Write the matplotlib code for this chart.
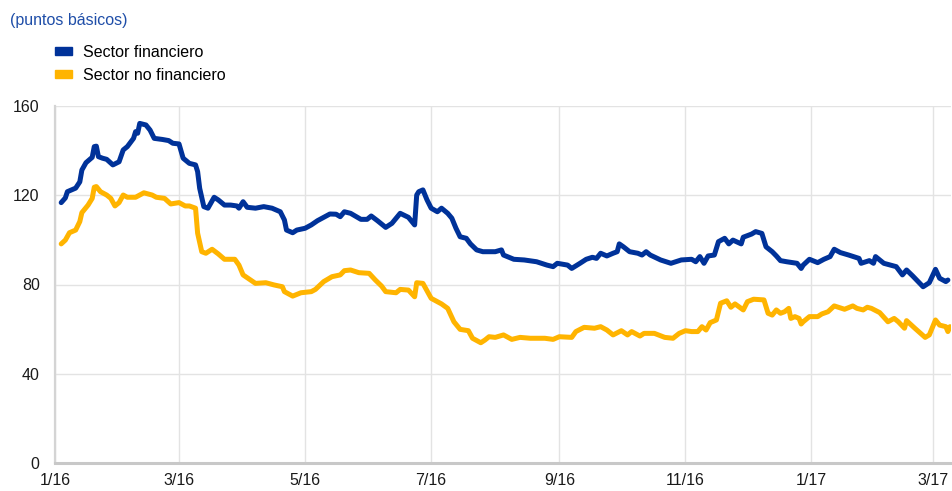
import matplotlib
matplotlib.use("Agg")
import matplotlib.pyplot as plt
from matplotlib.patches import Patch
import pandas as pd

plt.rcParams["font.family"] = ["Liberation Sans", "DejaVu Sans"]

BLUE = "#003299"
YELLOW = "#FFB400"

# Sector financiero (puntos básicos)
fin_dates = [
    "2016-01-04", "2016-01-06", "2016-01-07", "2016-01-11", "2016-01-13", "2016-01-14",
    "2016-01-16", "2016-01-19", "2016-01-20", "2016-01-21", "2016-01-22", "2016-01-24",
    "2016-01-26", "2016-01-29", "2016-02-01", "2016-02-03", "2016-02-05", "2016-02-08",
    "2016-02-09", "2016-02-10", "2016-02-11", "2016-02-14", "2016-02-16", "2016-02-18",
    "2016-02-22", "2016-02-25", "2016-02-27", "2016-03-01", "2016-03-03", "2016-03-06",
    "2016-03-09", "2016-03-10", "2016-03-11", "2016-03-13", "2016-03-15", "2016-03-18",
    "2016-03-20", "2016-03-23", "2016-03-26", "2016-03-29", "2016-03-30", "2016-04-01",
    "2016-04-03", "2016-04-07", "2016-04-11", "2016-04-15", "2016-04-17", "2016-04-19",
    "2016-04-21", "2016-04-22", "2016-04-25", "2016-04-27", "2016-05-01", "2016-05-04",
    "2016-05-07", "2016-05-10", "2016-05-13", "2016-05-16", "2016-05-18", "2016-05-20",
    "2016-05-23", "2016-05-28", "2016-05-31", "2016-06-02", "2016-06-05", "2016-06-09",
    "2016-06-12", "2016-06-16", "2016-06-20", "2016-06-23", "2016-06-24", "2016-06-25",
    "2016-06-27", "2016-06-29", "2016-07-01", "2016-07-04", "2016-07-06", "2016-07-09",
    "2016-07-11", "2016-07-13", "2016-07-15", "2016-07-18", "2016-07-20", "2016-07-23",
    "2016-07-26", "2016-07-28", "2016-08-01", "2016-08-04", "2016-08-05", "2016-08-10",
    "2016-08-15", "2016-08-21", "2016-08-26", "2016-08-29", "2016-08-31", "2016-09-05",
    "2016-09-07", "2016-09-11", "2016-09-14", "2016-09-17", "2016-09-19", "2016-09-21",
    "2016-09-24", "2016-09-27", "2016-09-29", "2016-09-30", "2016-10-02", "2016-10-05",
    "2016-10-09", "2016-10-11", "2016-10-13", "2016-10-15", "2016-10-20", "2016-10-25",
    "2016-10-30", "2016-11-04", "2016-11-06", "2016-11-08", "2016-11-10", "2016-11-12",
    "2016-11-15", "2016-11-17", "2016-11-20", "2016-11-22", "2016-11-24", "2016-11-28",
    "2016-11-29", "2016-12-03", "2016-12-05", "2016-12-08", "2016-12-10", "2016-12-13",
    "2016-12-15", "2016-12-17", "2016-12-20", "2016-12-25", "2016-12-27", "2016-12-28",
    "2016-12-31", "2017-01-04", "2017-01-07", "2017-01-10", "2017-01-12", "2017-01-15",
    "2017-01-19", "2017-01-24", "2017-01-25", "2017-01-29", "2017-01-31", "2017-02-01",
    "2017-02-05", "2017-02-09", "2017-02-11", "2017-02-14", "2017-02-16", "2017-02-19",
    "2017-02-24", "2017-02-27", "2017-03-02", "2017-03-04", "2017-03-07", "2017-03-08",
]
fin_values = [
    116.7, 118.8, 121.6, 123.2, 126.0, 131.3,
    134.6, 137.0, 141.8, 142.0, 137.3, 136.6,
    136.1, 133.6, 135.0, 140.3, 141.8, 145.5,
    148.5, 147.8, 152.2, 151.5, 149.2, 145.5,
    145.0, 144.5, 143.3, 143.0, 136.6, 134.3,
    133.6, 130.6, 123.1, 114.9, 114.2, 119.1,
    117.9, 115.6, 115.6, 115.2, 114.2, 117.1,
    114.6, 114.2, 114.9, 114.2, 113.4, 112.6,
    108.9, 104.4, 103.2, 104.4, 105.2, 106.7,
    108.6, 110.1, 111.6, 111.5, 110.4, 112.6,
    111.9, 109.2, 109.2, 110.7, 108.6, 105.6,
    107.4, 111.9, 110.1, 106.7, 120.1, 121.6,
    122.4, 117.9, 114.2, 112.6, 114.2, 111.9,
    109.7, 105.2, 101.4, 100.7, 98.2, 95.5,
    94.7, 94.7, 94.7, 95.5, 93.2, 91.3,
    91.0, 90.2, 88.7, 88.0, 89.5, 88.7,
    87.2, 89.5, 91.3, 92.2, 91.7, 94.0,
    92.8, 94.0, 94.7, 98.2, 96.9, 94.7,
    94.0, 93.2, 94.7, 93.2, 91.0, 89.5,
    91.0, 91.3, 90.2, 92.5, 89.5, 92.8,
    93.2, 99.2, 100.7, 98.2, 99.9, 98.2,
    101.2, 102.6, 103.7, 102.9, 96.9, 94.7,
    92.8, 90.7, 90.2, 89.5, 87.2, 88.7,
    91.3, 89.8, 91.3, 92.5, 95.8, 94.3,
    93.2, 91.7, 89.5, 90.7, 89.5, 92.5,
    89.5, 88.5, 88.0, 84.3, 86.5, 83.8,
    79.0, 80.8, 86.8, 82.8, 81.3, 82.0,
]

# Sector no financiero (puntos básicos)
nonfin_dates = [
    "2016-01-04", "2016-01-06", "2016-01-08", "2016-01-11", "2016-01-13", "2016-01-14",
    "2016-01-17", "2016-01-19", "2016-01-20", "2016-01-21", "2016-01-23", "2016-01-26",
    "2016-01-28", "2016-01-30", "2016-02-01", "2016-02-03", "2016-02-05", "2016-02-09",
    "2016-02-13", "2016-02-17", "2016-02-19", "2016-02-23", "2016-02-26", "2016-03-01",
    "2016-03-04", "2016-03-06", "2016-03-09", "2016-03-10", "2016-03-12", "2016-03-14",
    "2016-03-17", "2016-03-20", "2016-03-23", "2016-03-28", "2016-03-30", "2016-04-01",
    "2016-04-07", "2016-04-12", "2016-04-16", "2016-04-20", "2016-04-21", "2016-04-25",
    "2016-04-29", "2016-05-04", "2016-05-06", "2016-05-10", "2016-05-14", "2016-05-18",
    "2016-05-20", "2016-05-23", "2016-05-27", "2016-06-01", "2016-06-04", "2016-06-07",
    "2016-06-09", "2016-06-14", "2016-06-16", "2016-06-20", "2016-06-23", "2016-06-24",
    "2016-06-27", "2016-07-01", "2016-07-04", "2016-07-06", "2016-07-09", "2016-07-12",
    "2016-07-15", "2016-07-19", "2016-07-21", "2016-07-25", "2016-07-27", "2016-07-29",
    "2016-08-01", "2016-08-05", "2016-08-09", "2016-08-13", "2016-08-18", "2016-08-25",
    "2016-08-29", "2016-09-01", "2016-09-07", "2016-09-09", "2016-09-13", "2016-09-18",
    "2016-09-21", "2016-09-24", "2016-09-27", "2016-10-01", "2016-10-04", "2016-10-06",
    "2016-10-10", "2016-10-12", "2016-10-17", "2016-10-22", "2016-10-26", "2016-10-29",
    "2016-11-01", "2016-11-04", "2016-11-07", "2016-11-09", "2016-11-11", "2016-11-13",
    "2016-11-16", "2016-11-18", "2016-11-21", "2016-11-23", "2016-11-25", "2016-11-29",
    "2016-12-01", "2016-12-04", "2016-12-09", "2016-12-11", "2016-12-13", "2016-12-15",
    "2016-12-17", "2016-12-19", "2016-12-21", "2016-12-22", "2016-12-24", "2016-12-26",
    "2016-12-27", "2016-12-28", "2016-12-31", "2017-01-04", "2017-01-06", "2017-01-09",
    "2017-01-12", "2017-01-17", "2017-01-21", "2017-01-23", "2017-01-26", "2017-01-28",
    "2017-01-30", "2017-02-03", "2017-02-07", "2017-02-10", "2017-02-12", "2017-02-15",
    "2017-02-16", "2017-02-20", "2017-02-25", "2017-02-27", "2017-03-02", "2017-03-04",
    "2017-03-07", "2017-03-08", "2017-03-09",
]
nonfin_values = [
    98.2, 99.9, 103.2, 104.4, 108.2, 112.2,
    115.6, 118.6, 123.6, 123.9, 121.6, 120.1,
    118.6, 115.2, 116.7, 120.1, 119.1, 119.1,
    121.1, 120.1, 119.1, 118.6, 116.1, 116.7,
    115.2, 115.2, 114.2, 103.0, 94.7, 94.0,
    95.8, 93.7, 91.3, 91.3, 88.7, 84.3,
    80.5, 80.8, 79.8, 79.0, 76.8, 74.8,
    76.3, 76.8, 77.8, 81.3, 83.5, 84.3,
    86.2, 86.5, 85.3, 85.0, 82.0, 79.3,
    76.8, 76.3, 77.8, 77.5, 74.5, 80.8,
    80.5, 73.8, 72.3, 71.3, 69.3, 63.3,
    59.9, 59.3, 55.9, 53.9, 55.1, 56.6,
    56.3, 57.4, 55.4, 56.3, 55.9, 55.9,
    55.4, 56.6, 56.3, 58.9, 60.8, 60.4,
    61.1, 59.6, 57.4, 59.3, 57.4, 58.9,
    56.9, 58.1, 58.1, 56.3, 55.9, 58.1,
    59.3, 58.9, 58.9, 61.1, 59.6, 62.9,
    64.1, 71.6, 72.7, 69.8, 71.3, 68.6,
    72.3, 73.4, 73.1, 67.1, 66.3, 68.6,
    67.1, 67.8, 69.3, 64.8, 65.6, 64.8,
    62.3, 63.3, 65.6, 65.6, 66.8, 67.8,
    70.4, 68.9, 70.4, 69.3, 68.6, 69.8,
    69.3, 67.4, 63.3, 64.8, 63.3, 60.4,
    63.8, 60.4, 56.3, 57.4, 64.1, 61.8,
    61.1, 58.9, 61.1,
]

tick_dates = ["2016-01-01", "2016-03-01", "2016-05-01", "2016-07-01",
              "2016-09-01", "2016-11-01", "2017-01-01", "2017-03-01"]
tick_labels = ["1/16", "3/16", "5/16", "7/16", "9/16", "11/16", "1/17", "3/17"]
y_ticks = [0, 40, 80, 120, 160]

W, H = 952, 491
fig = plt.figure(figsize=(W / 100, H / 100), dpi=100)
ax = fig.add_axes([55 / W, (H - 463) / H, (951 - 55) / W, (463 - 106) / H])

ax.plot(pd.to_datetime(nonfin_dates), nonfin_values, color=YELLOW, lw=3.6,
        solid_joinstyle="round", solid_capstyle="round", zorder=3)
ax.plot(pd.to_datetime(fin_dates), fin_values, color=BLUE, lw=3.6,
        solid_joinstyle="round", solid_capstyle="round", zorder=4)

ax.set_xlim(pd.Timestamp("2016-01-01"), pd.Timestamp("2017-03-09 12:00"))
ax.set_ylim(0, 160)
ax.set_xticks(pd.to_datetime(tick_dates))
ax.set_xticklabels(tick_labels)
ax.set_yticks(y_ticks)

ax.grid(True, color="#e3e3e3", lw=1.0)
ax.set_axisbelow(True)
for side in ["top", "right"]:
    ax.spines[side].set_visible(False)
ax.spines["left"].set_color("#d4d4d4")
ax.spines["left"].set_linewidth(1.6)
ax.spines["bottom"].set_color("#c8c8c8")
ax.spines["bottom"].set_linewidth(2.2)
ax.tick_params(length=0, labelsize=11.5, colors="#1a1a1a")
ax.tick_params(axis="y", pad=11)
ax.tick_params(axis="x", pad=7)

fig.text(10 / W, 1 - 20 / H, "(puntos básicos)", color="#1f4ea8",
         fontsize=11.5, va="center", ha="left")

handles = [Patch(color=BLUE), Patch(color=YELLOW)]
fig.legend(handles, ["Sector financiero", "Sector no financiero"],
           loc="upper left", bbox_to_anchor=(53 / W, 1 - 43 / H),
           frameon=False, fontsize=11.5, handlelength=1.1, handleheight=0.42,
           handletextpad=0.65, labelspacing=0.5, borderaxespad=0,
           borderpad=0.1)

fig.savefig("out.png", dpi=100)
